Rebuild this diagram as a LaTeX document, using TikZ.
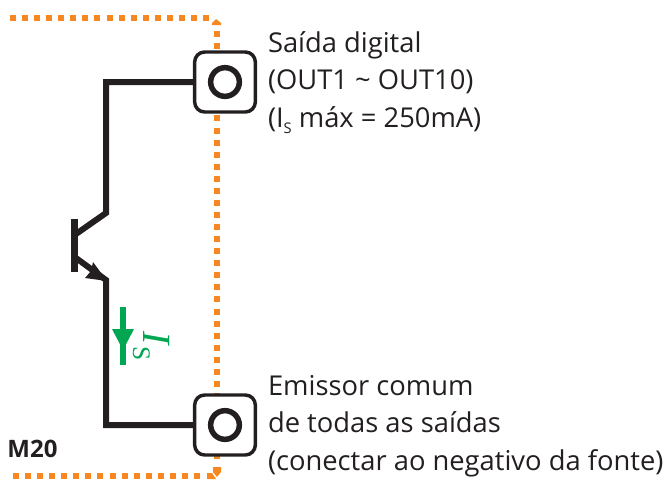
\documentclass[tikz,border=0pt]{standalone}
\usepackage{fontspec}
\setmainfont{Open Sans}
\usetikzlibrary{positioning}
\definecolor{dotorange}{RGB}{247,136,33}
\definecolor{wiregreen}{RGB}{0,166,81}
\definecolor{wireblack}{RGB}{35,31,32}
\tikzset{every picture/.style={line width=0.75pt},
  termbox/.style={draw=wireblack,fill=white,line width=2.6pt,rounded corners=7.5pt,minimum width=45.5pt,minimum height=45pt,inner sep=0pt},
  termring/.style={circle,draw=wireblack,line width=4.1pt,minimum size=21.5pt,inner sep=0pt},
  wire/.style={draw=wireblack,line width=4.5pt,miter limit=10},
  dotline/.style={draw=dotorange,line width=4.4pt,dash pattern=on 4.5pt off 4.55pt},
  lbl/.style={anchor=north west,inner sep=0.75pt,font=\fontsize{20.5}{28}\selectfont,align=left,text=wireblack}}

\begin{document}
\begin{tikzpicture}[x=0.75pt,y=0.75pt,yscale=-1,xscale=1]
	\useasboundingbox (0,0) rectangle (668,479);

	%module border
	\coordinate (topstart) at (10,18);
	\coordinate (botstart) at (13,476);
	\draw [dotline] (topstart) -- (211,18);
	\draw [dotline] (217,31) -- (217,462);
	\draw [dotline] (botstart) -- (205,476);
	\fill [dotorange] (216,19) -- (221,23) -- (221,25) -- (212,25) -- (212,23) -- cycle;
	\fill [dotorange] (213,467) -- (221,467) -- (221,472) -- (217,477) -- (213,472) -- cycle;
	\fill [dotorange] (207,473) -- (212,473) -- (216,479) -- (207,479) -- cycle;

	%terminals
	\node [termbox] (outbox) at (225,82) {};
	\node [termbox] (combox) at (225,425) {};
	\node [termring] (outring) at (225,82) {};
	\node [termring] (comring) at (225,425) {};

	%transistor
	\coordinate (collector) at (106,213);
	\coordinate (basetop) at (76,234);
	\coordinate (baselow) at (76,258);
	\coordinate (emitter) at (106,280);
	\coordinate (bartop) at (74.5,219);
	\coordinate (barlow) at (74.5,272);
	\draw [wire,line width=5.3pt] (bartop) -- (barlow);
	\draw [wire] (outbox.west) -- (106,82) -- (collector) -- (basetop);
	\draw [wire] (baselow) -- (emitter) -- (106,425) -- (combox.west);
	\fill [wireblack] (107,281) -- (85,278) -- (91,271) -- (93,262) -- cycle;

	%current arrow
	\coordinate (arrowtop) at (123,307);
	\coordinate (arrowlow) at (123,365);
	\draw [draw=wiregreen,line width=4.2pt] (arrowtop) -- (arrowlow);
	\fill [wiregreen] (112,329) -- (134,329) -- (123,350) -- cycle;
	\node [rotate=-90,anchor=base west,text=wiregreen,inner sep=0pt,font=\fontsize{30}{30}\selectfont] (islabel) at (143,331) {\fontspec{Liberation Serif}\textit{I}\raisebox{-7.5pt}{\fontsize{19}{19}\selectfont S}};

	% Text Node
	\node [lbl] (outlabel) at (266.5,30) {Saída digital\\(OUT1 \char`\~{} OUT10)\\(I\raisebox{-5pt}{\fontsize{11}{11}\selectfont S} máx = 250mA)};
	% Text Node
	\node [lbl] (comlabel) at (266.5,374) {Emissor comum\\de todas as saídas\\(conectar ao negativo da fonte)};
	% Text Node
	\node [lbl,anchor=west,font=\fontsize{18}{20}\selectfont\bfseries] (modlabel) at (6,449) {M20};
\end{tikzpicture}
\end{document}
